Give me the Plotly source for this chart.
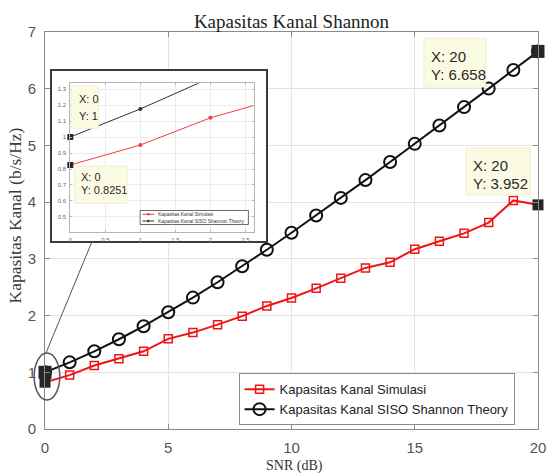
import plotly.graph_objects as go

# ---------------- data ----------------
snr_db = list(range(0, 21))
cap_sim = [0.8251, 0.95, 1.12, 1.24, 1.37, 1.59, 1.70, 1.84, 1.99, 2.17, 2.31,
           2.48, 2.66, 2.84, 2.94, 3.17, 3.31, 3.45, 3.64, 4.03, 3.952]
cap_theory = [1.0, 1.1756, 1.3701, 1.5827, 1.8123, 2.0574, 2.3165, 2.5878, 2.8698,
              3.1608, 3.4594, 3.7643, 4.0746, 4.3891, 4.7070, 5.0278, 5.3509,
              5.6758, 6.0021, 6.3297, 6.658]
x_ticks = [0, 5, 10, 15, 20]
y_ticks = [0, 1, 2, 3, 4, 5, 6, 7]
inset_x_ticks = [0, 0.5, 1, 1.5, 2, 2.5]
inset_y_ticks = [0.5, 0.6, 0.7, 0.8, 0.9, 1, 1.1, 1.2, 1.3]
name_sim = "Kapasitas Kanal Simulasi"
name_theory = "Kapasitas Kanal SISO Shannon Theory"

# ---------------- geometry helpers (pixel -> paper) ----------------
W_FIG, H_FIG = 555, 475
L, R, T, B = 45, 546, 32, 429
PW, PH = R - L, B - T


def px(x):
    return (x - L) / PW


def py(y):
    return (B - y) / PH


RED = "#f01414"
BLK = "#111111"
TIP = "#262626"
SANS = "Liberation Sans"
SERIF = "Liberation Serif"

fig = go.Figure()

# ---------------- main traces ----------------
fig.add_trace(go.Scatter(
    x=snr_db, y=cap_sim, mode="lines+markers", name=name_sim,
    line=dict(color=RED, width=2),
    marker=dict(symbol="square-open", size=8, color=RED, line=dict(width=1.5, color=RED)),
))
fig.add_trace(go.Scatter(
    x=snr_db, y=cap_theory, mode="lines+markers", name=name_theory,
    line=dict(color=BLK, width=2),
    marker=dict(symbol="circle-open", size=12, color=BLK, line=dict(width=2, color=BLK)),
))
# data-tip squares (main)
fig.add_trace(go.Scatter(
    x=[snr_db[0], snr_db[-1]], y=[cap_sim[0], cap_sim[-1]], mode="markers",
    marker=dict(symbol="square", size=11, color=TIP), cliponaxis=False,
    showlegend=False, hoverinfo="skip"))
fig.add_trace(go.Scatter(
    x=[snr_db[0], snr_db[-1]], y=[cap_theory[0], cap_theory[-1]], mode="markers",
    marker=dict(symbol="square", size=13, color=TIP), cliponaxis=False,
    showlegend=False, hoverinfo="skip"))

# ---------------- inset frame (empty subplot x2/y2) ----------------
fig.add_trace(go.Scatter(x=[None], y=[None], xaxis="x2", yaxis="y2",
                         showlegend=False, hoverinfo="skip"))

# ---------------- inset traces (x3/y3) ----------------
fig.add_trace(go.Scatter(
    x=snr_db, y=cap_sim, mode="lines+markers", xaxis="x3", yaxis="y3",
    line=dict(color="#f03c3c", width=1), marker=dict(symbol="circle", size=4, color="#f03c3c"),
    showlegend=False, hoverinfo="skip"))
fig.add_trace(go.Scatter(
    x=snr_db, y=cap_theory, mode="lines+markers", xaxis="x3", yaxis="y3",
    line=dict(color="#333333", width=1), marker=dict(symbol="circle", size=4, color="#333333"),
    showlegend=False, hoverinfo="skip"))
fig.add_trace(go.Scatter(
    x=[snr_db[0], snr_db[0]], y=[cap_sim[0], cap_theory[0]], mode="markers",
    xaxis="x3", yaxis="y3", marker=dict(symbol="square", size=6, color=TIP),
    cliponaxis=False, showlegend=False, hoverinfo="skip"))

axis_common = dict(
    showgrid=True, gridcolor="#e4e4e4", gridwidth=1, zeroline=False,
    showline=True, mirror="allticks", linecolor="#8a8a8a", linewidth=1,
    ticks="inside", ticklen=5, tickcolor="#8a8a8a",
    tickfont=dict(family=SANS, size=15, color="#555555"),
    ticklabelstandoff=5,
)

fig.update_layout(
    width=W_FIG, height=H_FIG, autosize=False,
    margin=dict(l=L, r=W_FIG - R, t=T, b=H_FIG - B, pad=0),
    paper_bgcolor="white", plot_bgcolor="white",
    title=dict(text="Kapasitas Kanal Shannon", x=0.5, xref="paper", xanchor="center",
               y=1 - 21.5 / H_FIG, yanchor="middle",
               font=dict(family=SERIF, size=19, color="#222222")),
    xaxis=dict(range=[0, 20], tickvals=x_ticks, domain=[0, 1], **axis_common),
    yaxis=dict(range=[0, 7], tickvals=y_ticks, domain=[0, 1], **axis_common),
    xaxis2=dict(domain=[px(52), px(270)], anchor="y2", range=[0, 1], showgrid=False,
                zeroline=False, showticklabels=False, ticks="", showline=True, mirror=True,
                linecolor="#3a3a3a", linewidth=2, fixedrange=True),
    yaxis2=dict(domain=[py(241), py(71)], anchor="x2", range=[0, 1], showgrid=False,
                zeroline=False, showticklabels=False, ticks="", showline=True, mirror=True,
                linecolor="#3a3a3a", linewidth=2, fixedrange=True),
    xaxis3=dict(domain=[px(70.7), px(257.3)], anchor="y3", range=[0, 2.62],
                tickvals=inset_x_ticks, ticktext=[f"{v:g}" for v in inset_x_ticks],
                showgrid=True, gridcolor="#ececec", zeroline=False, showline=True,
                mirror="allticks", linecolor="#b5b5b5", linewidth=1, ticks="inside",
                ticklen=2, tickcolor="#b5b5b5",
                tickfont=dict(family=SANS, size=6, color="#666666"), ticklabelstandoff=2),
    yaxis3=dict(domain=[py(232), py(83.3)], anchor="x3", range=[0.406, 1.336],
                tickvals=inset_y_ticks, ticktext=[f"{v:g}" for v in inset_y_ticks],
                showgrid=True, gridcolor="#ececec", zeroline=False, showline=True,
                mirror="allticks", linecolor="#b5b5b5", linewidth=1, ticks="inside",
                ticklen=2, tickcolor="#b5b5b5",
                tickfont=dict(family=SANS, size=6, color="#666666"), ticklabelstandoff=2),
    legend=dict(x=px(241.7), y=py(373.3), xanchor="left", yanchor="top",
                bgcolor="white", bordercolor="#8c8c8c", borderwidth=1,
                font=dict(family=SANS, size=13, color="#222222"),
                tracegroupgap=0, itemwidth=30),
    showlegend=True,
)

shapes = []
annots = []


def tip_box(x0, y0, x1, y1):
    shapes.append(dict(type="rect", xref="paper", yref="paper",
                       x0=px(x0), x1=px(x1), y0=py(y1), y1=py(y0),
                       fillcolor="#fbfbe4", line=dict(color="#eeeed6", width=1),
                       layer="above"))


def tip_text(x, y, text, size):
    annots.append(dict(text=text, xref="paper", yref="paper", x=px(x), y=py(y),
                       xanchor="left", yanchor="middle", showarrow=False,
                       font=dict(family=SANS, size=size, color="#2a2a2a")))


# main data tips
tip_box(430, 38, 493, 87)
tip_text(435, 56.5, f"X: {snr_db[-1]}", 15)
tip_text(435, 74.5, f"Y: {cap_theory[-1]:.3f}", 15)
tip_box(473, 148, 538, 195)
tip_text(478, 165.5, f"X: {snr_db[-1]}", 15)
tip_text(478, 183.5, f"Y: {cap_sim[-1]:.3f}", 15)

# inset data tips
tip_box(71.7, 86, 99.3, 128.3)
tip_text(77.5, 98.5, f"X: {snr_db[0]}", 11)
tip_text(77.5, 115.5, f"Y: {cap_theory[0]:g}", 11)
tip_box(75, 166, 128.3, 203.3)
tip_text(79.5, 176.7, f"X: {snr_db[0]}", 11)
tip_text(79.5, 190, f"Y: {cap_sim[0]:g}", 11)

# inset legend
shapes.append(dict(type="rect", xref="paper", yref="paper",
                   x0=px(141.7), x1=px(251.7), y0=py(224.5), y1=py(210.5),
                   fillcolor="white", line=dict(color="#444444", width=0.8), layer="above"))
for yy, col, txt in [(214.3, "#f03c3c", name_sim), (221, "#333333", name_theory)]:
    shapes.append(dict(type="line", xref="paper", yref="paper",
                       x0=px(144), x1=px(156), y0=py(yy), y1=py(yy),
                       line=dict(color=col, width=1), layer="above"))
    shapes.append(dict(type="circle", xref="paper", yref="paper",
                       x0=px(148.8), x1=px(151.2), y0=py(yy + 1.2), y1=py(yy - 1.2),
                       fillcolor=col, line=dict(color=col, width=0), layer="above"))
    annots.append(dict(text=txt, xref="paper", yref="paper", x=px(158), y=py(yy),
                       xanchor="left", yanchor="middle", showarrow=False,
                       font=dict(family=SANS, size=4.9, color="#333333")))

# zoom ellipse and pointer line
shapes.append(dict(type="circle", xref="paper", yref="paper",
                   x0=px(34), x1=px(60), y0=py(400), y1=py(353),
                   line=dict(color="#555555", width=1.5), layer="above"))
shapes.append(dict(type="line", xref="paper", yref="paper",
                   x0=px(46), y0=py(353), x1=px(93), y1=py(241),
                   line=dict(color="#555555", width=1), layer="above"))

# axis titles
annots.append(dict(text="SNR (dB)", xref="paper", yref="paper", x=px(299), y=py(466),
                   xanchor="center", yanchor="middle", showarrow=False,
                   font=dict(family=SERIF, size=14, color="#333333")))
annots.append(dict(text="Kapasitas Kanal (b/s/Hz)", xref="paper", yref="paper",
                   x=px(15), y=py(215), textangle=-90,
                   xanchor="center", yanchor="middle", showarrow=False,
                   font=dict(family=SERIF, size=17.5, color="#3a3a3a")))

fig.update_layout(shapes=shapes, annotations=annots)

fig.write_html("out.html", config={"displayModeBar": False},
               post_script="document.body.style.margin='0px';document.body.style.overflow='hidden';")
